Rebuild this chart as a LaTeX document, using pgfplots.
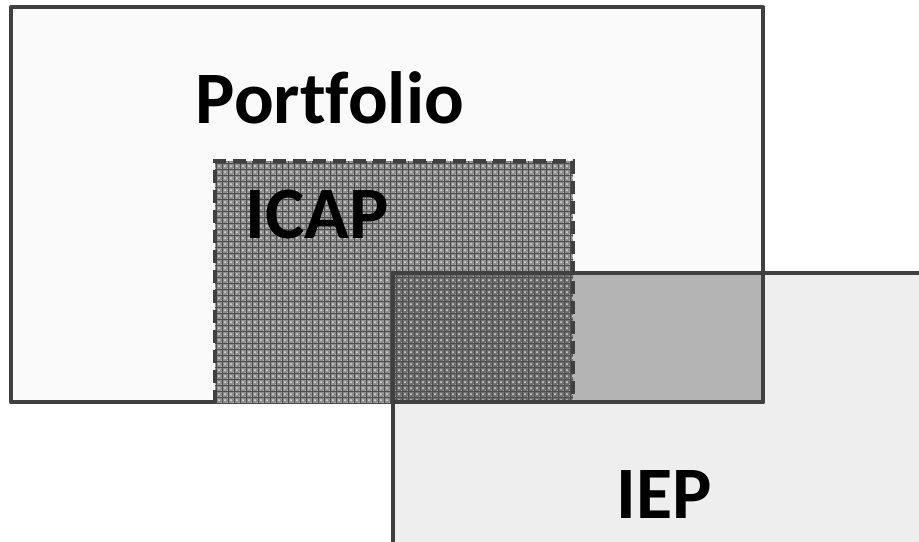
\documentclass[border=0pt]{standalone}
\usepackage{pgfplots}
\pgfplotsset{compat=1.18}
\usepackage{fontspec}
\setmainfont{Carlito}[Ligatures=NoCommon]
\usetikzlibrary{patterns}
\definecolor{edge}{HTML}{404040}
\definecolor{portfill}{HTML}{FAFAFA}
\definecolor{iepfill}{HTML}{EEEEEE}
\definecolor{ovfill}{HTML}{B4B4B4}
\definecolor{icapfill}{HTML}{8E8E8E}
\definecolor{icapov}{HTML}{707070}
\begin{document}
\begin{tikzpicture}
\begin{axis}[
  width=459.5pt, height=270.5pt, scale only axis,
  xmin=0, xmax=919, ymin=0, ymax=541, y dir=reverse,
  hide axis, clip=true, enlargelimits=false,
]
% fills
\addplot[draw=none, fill=portfill] coordinates {(11,7) (763,7) (763,402) (11,402)} -- cycle;
\addplot[draw=none, fill=iepfill] coordinates {(393,273) (925,273) (925,545) (393,545)} -- cycle;
\addplot[draw=none, fill=ovfill] coordinates {(393,273) (763,273) (763,402) (393,402)} -- cycle;
% portfolio border
\addplot[draw=edge, line width=2pt, line join=round] coordinates {(11,7) (763,7) (763,402) (11,402)} -- cycle;
% ICAP texture
\addplot[draw=none, fill=icapfill] coordinates {(215,161) (573,161) (573,403) (215,403)} -- cycle;
\addplot[draw=none, fill=icapov] coordinates {(393,273) (573,273) (573,403) (393,403)} -- cycle;
\addplot[draw=none, pattern=crosshatch dots, pattern color=white!75!gray] coordinates {(215,161) (573,161) (573,403) (215,403)} -- cycle;
\addplot[draw=none, pattern=grid, pattern color=black!70] coordinates {(215,161) (573,161) (573,403) (215,403)} -- cycle;
% IEP border
\addplot[draw=edge, line width=2pt, line join=round] coordinates {(393,545) (393,273) (925,273)};
% portfolio edges inside IEP
\addplot[draw=edge, line width=2pt, line join=round] coordinates {(393,402) (763,402) (763,273)};
% ICAP dashed border
\addplot[draw=edge, line width=2pt, dash pattern=on 6.5pt off 3.5pt] coordinates {(215,403) (215,161) (573,161) (573,403)};
% labels
\node[anchor=base, font=\fontsize{37}{40}\selectfont\bfseries, text=black] at (axis cs:330,123) {Portfolio};
\node[anchor=base, font=\fontsize{37}{40}\selectfont\bfseries, text=black] at (axis cs:317.5,238) {ICAP};
\node[anchor=base, font=\fontsize{37}{40}\selectfont\bfseries, text=black] at (axis cs:664,518) {IEP};
\end{axis}
\path (current axis.south west) rectangle (current axis.north east);
\end{tikzpicture}
\end{document}
